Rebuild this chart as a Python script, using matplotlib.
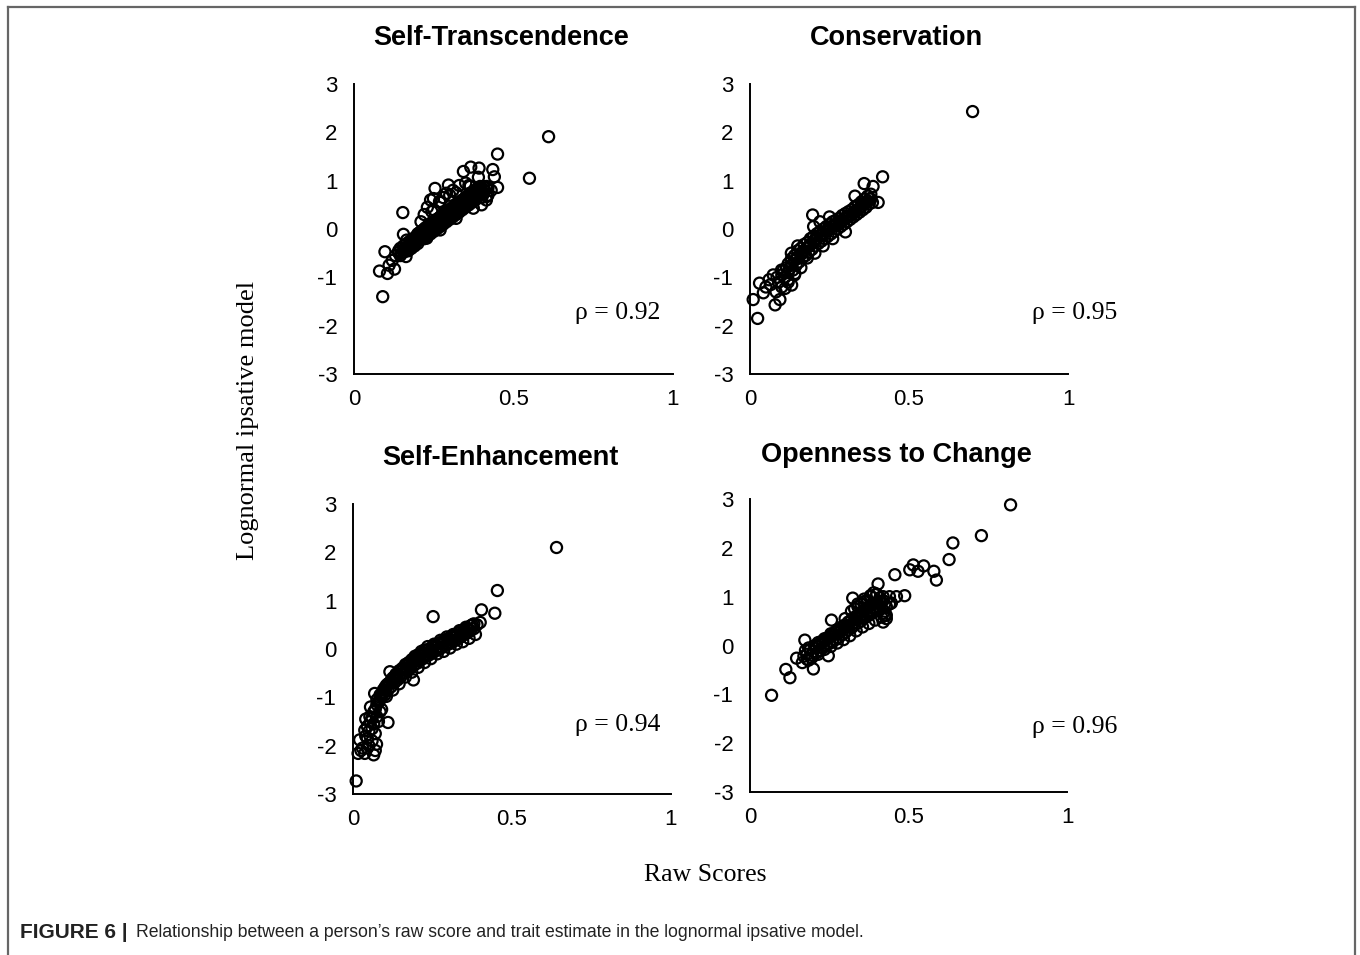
import matplotlib.pyplot as plt
from matplotlib.lines import Line2D

plt.rcParams['axes.unicode_minus'] = False

W, H = 1360, 955

titles = ["Self-Transcendence", "Conservation", "Self-Enhancement", "Openness to Change"]
rhos = ["\u03c1 = 0.92", "\u03c1 = 0.95", "\u03c1 = 0.94", "\u03c1 = 0.96"]
xticks = [0, 0.5, 1]
xticklabels = ["0", "0.5", "1"]
yticks = [-3, -2, -1, 0, 1, 2, 3]

# Self-Transcendence
st_x = [0.61, 0.55, 0.45, 0.435, 0.44, 0.45, 0.366, 0.392, 0.343, 0.39, 0.254, 0.296,
        0.153, 0.155, 0.097, 0.08, 0.105, 0.09, 0.127, 0.11, 0.163, 0.14, 0.12, 0.13,
        0.14, 0.15, 0.16, 0.17, 0.17, 0.18, 0.18, 0.19, 0.19, 0.20, 0.20, 0.20,
        0.21, 0.21, 0.22, 0.22, 0.22, 0.23, 0.23, 0.23, 0.24, 0.24, 0.24, 0.25,
        0.25, 0.25, 0.26, 0.26, 0.26, 0.27, 0.27, 0.27, 0.28, 0.28, 0.28, 0.29,
        0.29, 0.29, 0.30, 0.30, 0.30, 0.31, 0.31, 0.31, 0.32, 0.32, 0.32, 0.33,
        0.33, 0.33, 0.34, 0.34, 0.34, 0.35, 0.35, 0.35, 0.36, 0.36, 0.36, 0.37,
        0.37, 0.37, 0.38, 0.38, 0.38, 0.39, 0.39, 0.40, 0.40, 0.41, 0.42, 0.42,
        0.43, 0.25, 0.24, 0.27, 0.28, 0.30, 0.31, 0.32, 0.33, 0.35, 0.36, 0.21,
        0.22, 0.23, 0.249, 0.268, 0.29, 0.244, 0.416, 0.40, 0.416, 0.395, 0.364, 0.228,
        0.27, 0.32, 0.374, 0.165,
        0.145, 0.145, 0.155, 0.155, 0.165, 0.165, 0.175, 0.175, 0.185, 0.185, 0.195, 0.195,
        0.205, 0.205, 0.215, 0.215, 0.225, 0.225, 0.235, 0.235, 0.245, 0.245, 0.255, 0.255,
        0.265, 0.265, 0.275, 0.275, 0.285, 0.285, 0.295, 0.295, 0.305, 0.305, 0.315, 0.315,
        0.325, 0.325, 0.335, 0.335, 0.345, 0.345, 0.355, 0.355, 0.365, 0.365, 0.375, 0.375,
        0.385, 0.385, 0.395, 0.395, 0.405, 0.405, 0.415, 0.415]
st_y = [1.91, 1.05, 1.55, 1.23, 1.08, 0.86, 1.28, 1.26, 1.19, 1.07, 0.84, 0.91,
        0.34, -0.11, -0.47, -0.87, -0.92, -1.40, -0.83, -0.75, -0.57, -0.49, -0.65, -0.55,
        -0.45, -0.50, -0.40, -0.35, -0.45, -0.30, -0.40, -0.25, -0.35, -0.20, -0.10, -0.30,
        -0.15, -0.05, -0.20, -0.10, 0.00, -0.05, 0.05, -0.15, 0.00, 0.10, -0.10, 0.05,
        0.15, -0.05, 0.10, 0.20, 0.00, 0.15, 0.25, 0.05, 0.20, 0.30, 0.10, 0.25,
        0.35, 0.15, 0.30, 0.40, 0.20, 0.35, 0.45, 0.25, 0.40, 0.50, 0.30, 0.45,
        0.55, 0.35, 0.50, 0.60, 0.40, 0.55, 0.65, 0.45, 0.60, 0.70, 0.50, 0.65,
        0.75, 0.55, 0.70, 0.80, 0.60, 0.75, 0.85, 0.80, 0.65, 0.80, 0.85, 0.70,
        0.80, 0.40, 0.60, 0.55, 0.65, 0.70, 0.80, 0.75, 0.90, 0.95, 0.90, 0.15,
        0.30, 0.45, 0.63, 0.57, 0.74, 0.36, 0.67, 0.50, 0.88, 0.88, 0.88, -0.19,
        -0.02, 0.22, 0.43, -0.23,
        -0.40, -0.55, -0.35, -0.48, -0.30, -0.45, -0.25, -0.38, -0.20, -0.33, -0.15, -0.28,
        -0.08, -0.22, -0.03, -0.18, 0.03, -0.12, 0.08, -0.07, 0.12, -0.02, 0.18, 0.02,
        0.22, 0.08, 0.28, 0.12, 0.33, 0.17, 0.38, 0.22, 0.42, 0.27, 0.48, 0.32,
        0.52, 0.37, 0.58, 0.42, 0.62, 0.47, 0.68, 0.52, 0.72, 0.57, 0.78, 0.62,
        0.82, 0.67, 0.85, 0.70, 0.88, 0.72, 0.85, 0.60]

# Conservation
co_x = [0.70, 0.417, 0.403, 0.387, 0.359, 0.377, 0.33, 0.197, 0.30, 0.204, 0.01, 0.024,
        0.03, 0.042, 0.079, 0.094, 0.06, 0.082, 0.11, 0.131, 0.141, 0.073, 0.099, 0.085,
        0.10, 0.105, 0.11, 0.115, 0.12, 0.12, 0.13, 0.13, 0.135, 0.14, 0.14, 0.145,
        0.15, 0.15, 0.155, 0.16, 0.16, 0.165, 0.17, 0.17, 0.175, 0.18, 0.18, 0.185,
        0.19, 0.19, 0.195, 0.20, 0.20, 0.205, 0.21, 0.21, 0.215, 0.22, 0.22, 0.225,
        0.23, 0.23, 0.235, 0.24, 0.24, 0.245, 0.25, 0.25, 0.255, 0.26, 0.26, 0.265,
        0.27, 0.27, 0.275, 0.28, 0.28, 0.285, 0.29, 0.29, 0.295, 0.30, 0.30, 0.305,
        0.31, 0.31, 0.315, 0.32, 0.32, 0.325, 0.33, 0.33, 0.335, 0.34, 0.34, 0.345,
        0.35, 0.35, 0.355, 0.36, 0.36, 0.365, 0.37, 0.37, 0.375, 0.38, 0.38, 0.385,
        0.15, 0.13, 0.20, 0.22, 0.25,
        0.125, 0.145, 0.165, 0.185, 0.205, 0.225, 0.245, 0.265, 0.285, 0.305, 0.325, 0.345,
        0.365, 0.12, 0.14, 0.16, 0.18, 0.23, 0.26, 0.05, 0.065, 0.09, 0.10, 0.12]
co_y = [2.43, 1.08, 0.55, 0.88, 0.94, 0.63, 0.68, 0.29, -0.06, -0.50, -1.46, -1.85,
        -1.12, -1.32, -1.57, -1.46, -1.05, -1.30, -1.23, -1.16, -0.92, -0.95, -0.85, -1.00,
        -0.95, -0.85, -1.00, -0.80, -0.90, -0.72, -0.75, -0.62, -0.85, -0.65, -0.55, -0.75,
        -0.58, -0.45, -0.68, -0.50, -0.40, -0.60, -0.45, -0.32, -0.55, -0.38, -0.28, -0.48,
        -0.32, -0.20, -0.42, -0.25, -0.15, -0.35, -0.20, -0.10, -0.30, -0.15, -0.05, -0.25,
        -0.10, 0.00, -0.20, -0.05, 0.05, -0.15, 0.00, 0.10, -0.10, 0.05, 0.15, -0.05,
        0.08, 0.18, 0.00, 0.12, 0.22, 0.05, 0.18, 0.28, 0.10, 0.22, 0.32, 0.15,
        0.26, 0.36, 0.20, 0.30, 0.40, 0.25, 0.36, 0.46, 0.30, 0.40, 0.50, 0.35,
        0.46, 0.56, 0.40, 0.52, 0.62, 0.45, 0.58, 0.68, 0.52, 0.62, 0.72, 0.55,
        -0.35, -0.50, 0.05, 0.15, 0.25,
        -0.82, -0.62, -0.50, -0.36, -0.22, -0.12, -0.02, 0.08, 0.15, 0.25, 0.33, 0.43,
        0.55, -1.05, -0.95, -0.80, -0.60, -0.35, -0.20, -1.20, -1.15, -1.10, -1.20, -1.10]

# Self-Enhancement
se_x = [0.64, 0.454, 0.446, 0.404, 0.252, 0.01, 0.016, 0.021, 0.037, 0.065, 0.074, 0.037,
        0.053, 0.11, 0.068, 0.116, 0.19, 0.03, 0.045, 0.05, 0.06, 0.07, 0.08, 0.09,
        0.04, 0.045, 0.05, 0.055, 0.06, 0.065, 0.07, 0.075, 0.08, 0.085, 0.09, 0.095,
        0.10, 0.10, 0.11, 0.11, 0.12, 0.12, 0.13, 0.13, 0.14, 0.14, 0.15, 0.15,
        0.16, 0.16, 0.17, 0.17, 0.18, 0.18, 0.19, 0.19, 0.20, 0.20, 0.21, 0.21,
        0.22, 0.22, 0.23, 0.23, 0.24, 0.24, 0.25, 0.25, 0.26, 0.26, 0.27, 0.27,
        0.28, 0.28, 0.29, 0.29, 0.30, 0.30, 0.31, 0.31, 0.32, 0.32, 0.33, 0.33,
        0.34, 0.34, 0.35, 0.35, 0.36, 0.36, 0.37, 0.37, 0.38, 0.38, 0.39, 0.40,
        0.085, 0.095, 0.105, 0.125, 0.145, 0.165, 0.185, 0.205, 0.225, 0.245, 0.265, 0.285,
        0.305, 0.325, 0.345, 0.365,
        0.075, 0.085, 0.095, 0.105, 0.115, 0.125, 0.135, 0.145, 0.155, 0.165, 0.175, 0.185,
        0.195, 0.205, 0.215, 0.225, 0.235, 0.255, 0.275, 0.295, 0.315, 0.335, 0.355, 0.375,
        0.105, 0.125, 0.145, 0.165, 0.185, 0.205, 0.225, 0.245, 0.265, 0.285, 0.305, 0.325,
        0.345, 0.365, 0.385,
        0.04, 0.055, 0.065, 0.075, 0.085, 0.06, 0.045, 0.025, 0.07]
se_y = [2.10, 1.21, 0.74, 0.81, 0.67, -2.73, -2.16, -1.88, -2.16, -2.19, -1.97, -1.68,
        -1.40, -1.52, -0.92, -0.47, -0.64, -2.05, -1.85, -2.00, -1.65, -1.75, -1.50, -1.25,
        -1.80, -1.60, -1.70, -1.50, -1.42, -1.30, -1.25, -1.15, -1.10, -1.00, -0.98, -0.92,
        -0.80, -0.95, -0.72, -0.85, -0.65, -0.78, -0.58, -0.70, -0.52, -0.64, -0.45, -0.58,
        -0.40, -0.50, -0.32, -0.44, -0.28, -0.40, -0.22, -0.34, -0.18, -0.30, -0.12, -0.24,
        -0.08, -0.20, -0.03, -0.15, 0.00, -0.12, 0.05, -0.07, 0.08, -0.04, 0.12, 0.00,
        0.15, 0.03, 0.19, 0.07, 0.22, 0.10, 0.26, 0.14, 0.28, 0.17, 0.33, 0.21,
        0.36, 0.25, 0.40, 0.30, 0.43, 0.33, 0.48, 0.38, 0.52, 0.42, 0.50, 0.55,
        -1.05, -0.90, -0.80, -0.68, -0.55, -0.43, -0.32, -0.22, -0.12, -0.04, 0.04, 0.12,
        0.19, 0.26, 0.33, 0.40,
        -1.05, -0.95, -0.85, -0.75, -0.70, -0.60, -0.52, -0.45, -0.40, -0.32, -0.28, -0.22,
        -0.15, -0.12, -0.05, -0.02, 0.05, 0.10, 0.18, 0.25, 0.30, 0.38, 0.45, 0.50,
        -0.98, -0.85, -0.72, -0.58, -0.48, -0.38, -0.28, -0.20, -0.10, -0.05, 0.02, 0.10,
        0.15, 0.22, 0.30,
        -1.45, -1.20, -1.55, -1.40, -1.30, -1.90, -2.05, -2.10, -2.10]

# Openness to Change
oc_x = [0.822, 0.73, 0.64, 0.628, 0.588, 0.58, 0.548, 0.53, 0.515, 0.504, 0.457, 0.488,
        0.462, 0.44, 0.446, 0.404, 0.324, 0.257, 0.068, 0.113, 0.126, 0.147, 0.173, 0.20,
        0.247, 0.425, 0.17, 0.175, 0.18, 0.185, 0.19, 0.195, 0.20, 0.21, 0.21, 0.22,
        0.22, 0.23, 0.23, 0.24, 0.24, 0.25, 0.25, 0.26, 0.26, 0.27, 0.27, 0.28,
        0.28, 0.29, 0.29, 0.30, 0.30, 0.31, 0.31, 0.32, 0.32, 0.33, 0.33, 0.34,
        0.34, 0.35, 0.35, 0.36, 0.36, 0.37, 0.37, 0.38, 0.38, 0.39, 0.39, 0.40,
        0.40, 0.41, 0.41, 0.42, 0.42, 0.43, 0.215, 0.235, 0.255, 0.275, 0.295, 0.315,
        0.335, 0.355, 0.375, 0.395, 0.33, 0.35, 0.36, 0.38, 0.39, 0.40, 0.37, 0.34,
        0.165, 0.18, 0.43, 0.42,
        0.185, 0.205, 0.225, 0.245, 0.265, 0.285, 0.305, 0.325, 0.345, 0.365, 0.385, 0.405,
        0.425, 0.195, 0.215, 0.235, 0.255, 0.275, 0.295, 0.315, 0.335, 0.355, 0.375, 0.395,
        0.415, 0.30, 0.32, 0.34, 0.36, 0.38, 0.40, 0.41, 0.42, 0.44, 0.43]
oc_y = [2.88, 2.25, 2.10, 1.76, 1.34, 1.52, 1.63, 1.52, 1.65, 1.55, 1.45, 1.02,
        1.00, 1.00, 0.87, 1.26, 0.97, 0.52, -1.02, -0.49, -0.66, -0.26, 0.11, -0.48,
        -0.21, 0.61, -0.22, -0.10, -0.18, -0.30, -0.08, -0.20, -0.12, -0.02, -0.15, 0.02,
        -0.10, 0.08, -0.05, 0.12, 0.00, 0.18, 0.04, 0.22, 0.08, 0.28, 0.12, 0.32,
        0.16, 0.38, 0.22, 0.42, 0.26, 0.48, 0.32, 0.52, 0.36, 0.58, 0.42, 0.62,
        0.46, 0.68, 0.50, 0.72, 0.56, 0.78, 0.60, 0.82, 0.64, 0.86, 0.68, 0.88,
        0.72, 0.90, 0.76, 0.92, 0.66, 0.80, 0.06, 0.14, 0.24, 0.32, 0.40, 0.48,
        0.56, 0.64, 0.70, 0.78, 0.75, 0.85, 0.95, 1.02, 1.08, 1.05, 0.92, 0.80,
        -0.35, -0.28, 0.55, 0.48,
        -0.05, 0.00, 0.08, 0.15, 0.22, 0.30, 0.38, 0.45, 0.55, 0.62, 0.70, 0.80,
        0.85, -0.25, -0.18, -0.08, -0.02, 0.05, 0.12, 0.20, 0.30, 0.38, 0.45, 0.52,
        0.58, 0.55, 0.70, 0.85, 0.90, 1.00, 1.05, 0.98, 1.00, 0.85, 0.62]

panel_x = [st_x, co_x, se_x, oc_x]
panel_y = [st_y, co_y, se_y, oc_y]

# axes boxes in pixels: left, top, right, bottom
boxes = [(354, 84, 673, 374), (750, 84, 1068, 374),
         (353, 504, 671, 794), (750, 499, 1067, 792)]
title_pos = [(501, 38), (896, 38), (500, 458), (896, 455)]
rho_pos = [(575, 313), (1032, 313), (575, 725), (1032, 727)]

fig = plt.figure(figsize=(W / 100, H / 100), dpi=100)

for i in range(4):
    l, t, r, b = boxes[i]
    ax = fig.add_axes([l / W, 1 - b / H, (r - l) / W, (b - t) / H])
    ax.scatter(panel_x[i], panel_y[i], s=64, facecolors='none', edgecolors='black',
               linewidths=1.6, clip_on=False, zorder=3)
    ax.set_xlim(0, 1)
    ax.set_ylim(-3, 3)
    ax.set_xticks(xticks)
    ax.set_xticklabels(xticklabels)
    ax.set_yticks(yticks)
    for side in ['top', 'right']:
        ax.spines[side].set_visible(False)
    for side in ['left', 'bottom']:
        ax.spines[side].set_linewidth(1.4)
    ax.tick_params(axis='both', length=0, labelsize=16, labelcolor='black')
    ax.tick_params(axis='y', pad=12)
    ax.tick_params(axis='x', pad=11)
    for lab in ax.get_xticklabels() + ax.get_yticklabels():
        lab.set_family('Liberation Sans')

    tx, ty = title_pos[i]
    fig.text(tx / W, 1 - ty / H, titles[i], ha='center', va='center',
             fontsize=19.5, fontweight='bold', family='Liberation Sans')
    rx, ry = rho_pos[i]
    fig.text(rx / W, 1 - ry / H, rhos[i], ha='left', va='center',
             fontsize=18.5, family='Liberation Serif')

fig.text(248 / W, 1 - 420 / H, "Lognormal ipsative model", rotation=90,
         ha='center', va='center', fontsize=19, family='Liberation Serif')
fig.text(705 / W, 1 - 875 / H, "Raw Scores", ha='center', va='center',
         fontsize=18.5, family='Liberation Serif')

# caption
fig.text(20 / W, 1 - 932 / H, "FIGURE 6 |", ha='left', va='center', fontsize=15,
         fontweight='bold', family='Liberation Sans', color='#222222')
fig.text(136 / W, 1 - 932 / H,
         "Relationship between a person\u2019s raw score and trait estimate in the lognormal ipsative model.",
         ha='left', va='center', fontsize=12.7, color='#222222', family='Liberation Sans')

# frame around the figure panel
frame_kw = dict(color='#666666', linewidth=1.6, transform=fig.transFigure)
fig.add_artist(Line2D([8 / W, 1355 / W], [1 - 7 / H, 1 - 7 / H], **frame_kw))
fig.add_artist(Line2D([8 / W, 8 / W], [1 - 7 / H, 0], **frame_kw))
fig.add_artist(Line2D([1355 / W, 1355 / W], [1 - 7 / H, 0], **frame_kw))

fig.savefig("out.png", dpi=100, facecolor='white')
